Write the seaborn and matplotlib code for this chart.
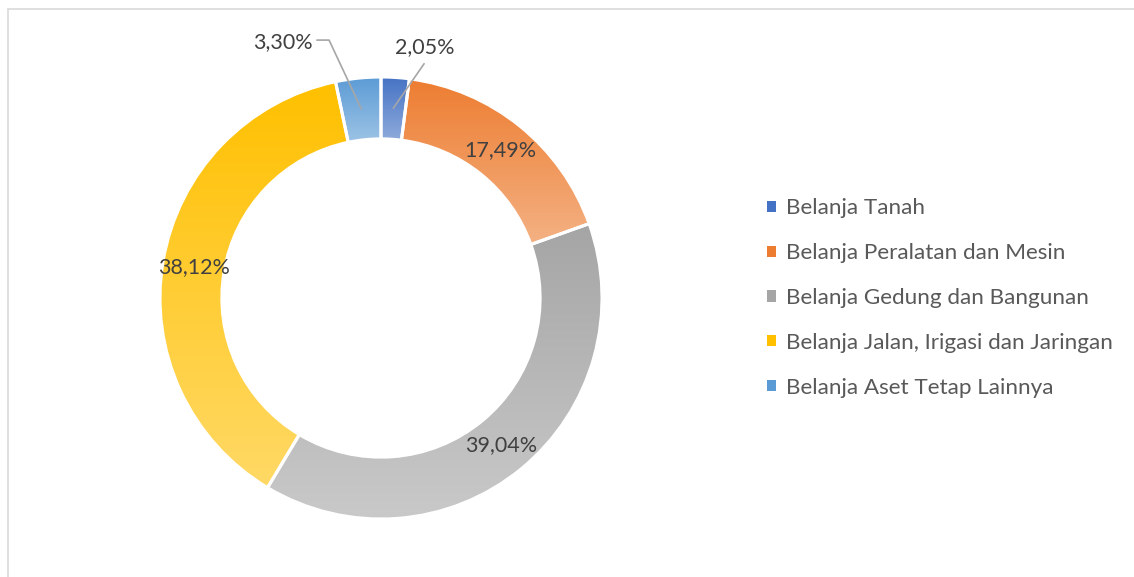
import numpy as np
import matplotlib
matplotlib.use("Agg")
import matplotlib.pyplot as plt
import matplotlib.colors as mcolors
from matplotlib.patches import Rectangle
from matplotlib.lines import Line2D
import seaborn as sns

categories = ["Belanja Tanah", "Belanja Peralatan dan Mesin", "Belanja Gedung dan Bangunan",
              "Belanja Jalan, Irigasi dan Jaringan", "Belanja Aset Tetap Lainnya"]
values = [2.05, 17.49, 39.04, 38.12, 3.30]
base_colors = ["#4472C4", "#ED7D31", "#A5A5A5", "#FFC000", "#5B9BD5"]

sns.set_theme(style="white")
plt.rcParams['font.family'] = ['Lato', 'DejaVu Sans']
palette = sns.color_palette(base_colors)

W, H = 1134, 577
fig = plt.figure(figsize=(W / 100, H / 100), dpi=100)
fig.patch.set_facecolor("white")

R_PX = 221.0
cx, cy = 381.0, H - 298.0
half = 262.0
ax = fig.add_axes([(cx - half) / W, (cy - half) / H, 2 * half / W, 2 * half / H])
lim = half / R_PX

def fmt(p):
    return f"{p:.2f}".replace(".", ",") + "%"

wedges, texts, autotexts = ax.pie(
    values, colors=palette, startangle=90, counterclock=False,
    radius=1.0, pctdistance=0.86, autopct=fmt,
    wedgeprops=dict(width=0.28, edgecolor="white", linewidth=2.2),
    textprops=dict(color="#404040", fontsize=15.5),
)

# vertical gradient fills (dark top -> lighter bottom), clipped to each wedge
for w, c in zip(wedges, palette):
    top = np.array(mcolors.to_rgb(c))
    bot = top + (1 - top) * 0.40
    t = np.linspace(0, 1, 256)[:, None, None]
    grad = top[None, None, :] * (1 - t) + bot[None, None, :] * t
    ext = w.get_path().get_extents()
    im = ax.imshow(grad, extent=(ext.x0, ext.x1, ext.y0, ext.y1), origin="upper",
                   aspect="auto", zorder=0.5, interpolation="bilinear")
    im.set_clip_path(w)
    w.set_facecolor("none")
    w.set_zorder(1)

for t in autotexts:
    t.set_zorder(3)

# outer labels with leader lines for small slices
def mid_point(w, r):
    a = np.deg2rad((w.theta1 + w.theta2) / 2)
    return r * np.cos(a), r * np.sin(a)

lc = "#A6A6A6"
# Belanja Tanah
x0, y0 = mid_point(wedges[0], 0.86)
ax.add_line(Line2D([x0, 0.195], [y0, 1.06], color=lc, lw=1.2, zorder=2))
autotexts[0].set_position((0.197, 1.137))
autotexts[0].set_ha("center")
autotexts[0].set_va("center")
# Belanja Aset Tetap Lainnya
x4, y4 = mid_point(wedges[4], 0.86)
ax.add_line(Line2D([x4, -0.235, -0.29], [y4, 1.167, 1.167], color=lc, lw=1.2, zorder=2))
autotexts[4].set_position((-0.31, 1.16))
autotexts[4].set_ha("right")
autotexts[4].set_va("center")

ax.set_xlim(-lim, lim)
ax.set_ylim(-lim, lim)
ax.set_aspect("equal")
ax.axis("off")

# legend
handles = [Rectangle((0, 0), 1, 1, facecolor=c, edgecolor="none") for c in palette]
leg = fig.legend(handles, categories, loc="center left",
                 bbox_to_anchor=(767 / W, (H - 298) / H), frameon=False,
                 fontsize=16.2, labelcolor="#595959", handlelength=0.4, handleheight=0.4,
                 handletextpad=0.45, labelspacing=1.1, borderpad=0, borderaxespad=0)

# chart frame
fig.add_artist(Rectangle((7.5 / W, -0.2), 1.5, (H - 9.5) / H + 0.2, transform=fig.transFigure,
                         fill=False, edgecolor="#D9D9D9", linewidth=1.2))

fig.savefig("out.png", dpi=100, facecolor="white")
